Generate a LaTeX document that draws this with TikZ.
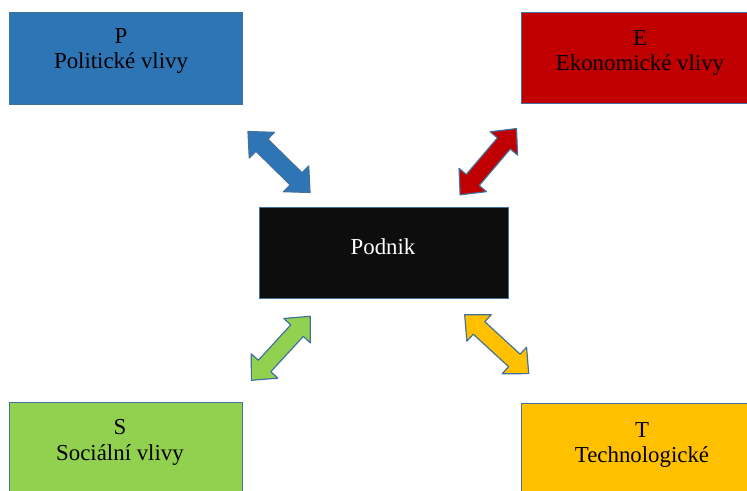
\documentclass[tikz,border=0pt]{standalone}
\usepackage{fontspec}
\setmainfont{Liberation Serif}
\definecolor{pblue}{HTML}{2E75B6}
\definecolor{ered}{HTML}{C00000}
\definecolor{sgreen}{HTML}{92D050}
\definecolor{tyellow}{HTML}{FFC000}
\definecolor{podblack}{HTML}{0D0D0D}
\definecolor{edgeblue}{HTML}{41719C}
\tikzset{
	box/.style={draw=edgeblue,line width=0.6pt,inner sep=0pt},
	lbl/.style={align=center,inner sep=0pt,font=\fontsize{19.5}{22}\selectfont},
	arrowline/.style={draw=edgeblue,line width=1pt,line join=round},
	dblarrow/.pic={
		\path[pic actions] (-43.5,0) -- (-24,18) -- (-24,8.5) -- (24,8.5) -- (24,18)
			-- (43.5,0) -- (24,-18) -- (24,-8.5) -- (-24,-8.5) -- (-24,-18) -- cycle;
	}
}
\begin{document}
\begin{tikzpicture}[x=0.03cm,y=-0.03cm]
			\useasboundingbox (0,0) rectangle (747,490);
			% the four influences
			\node[box,fill=pblue,minimum width=6.99cm,minimum height=2.76cm] (P) at (125.5,58) {};
			\node[box,fill=ered,minimum width=7.26cm,minimum height=2.73cm] (E) at (642,57.5) {};
			\node[box,fill=sgreen,minimum width=6.99cm,minimum height=2.76cm] (S) at (125.5,448) {};
			\node[box,fill=tyellow,minimum width=7.26cm,minimum height=2.73cm] (T) at (642,449) {};
			\node[lbl,anchor=north] (Plbl) at (121,28) {P\\Politické vlivy};
			\node[lbl,anchor=north] (Elbl) at (640,30) {E\\Ekonomické vlivy};
			\node[lbl,anchor=north] (Slbl) at (120,419) {S\\Sociální vlivy};
			\node[lbl,anchor=north] (Tlbl) at (642,422) {T\\Technologické};
			% the firm
			\node[box,fill=podblack,minimum width=7.47cm,minimum height=2.73cm] (pod) at (383.5,252.5) {};
			\node[lbl,text=white,anchor=base] (podlbl) at (383,254) {Podnik};
			% block arrows
			\pic[arrowline,fill=pblue,rotate=-44.5] (arP) at (279,162) {dblarrow};
			\pic[arrowline,fill=ered,rotate=49.6] (arE) at (488.3,161.7) {dblarrow};
			\pic[arrowline,fill=sgreen,rotate=47.4] (arS) at (280.8,348.3) {dblarrow};
			\pic[arrowline,fill=tyellow,rotate=-42.6] (arT) at (496.7,344.2) {dblarrow};
\end{tikzpicture}
\end{document}
